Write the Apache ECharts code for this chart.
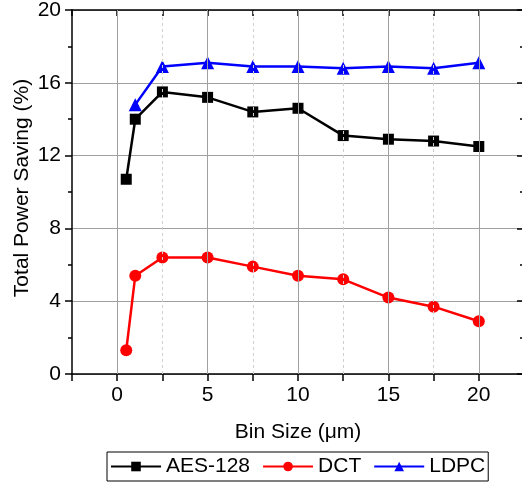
<!DOCTYPE html>
<html>
<head>
<meta charset="utf-8">
<script src="https://cdn.jsdelivr.net/npm/echarts@6/dist/echarts.min.js"></script>
<style>
  html, body { margin: 0; padding: 0; background: #fff; }
  #chart { width: 522px; height: 487px; }
</style>
</head>
<body>
<div id="chart"></div>
<script>
// Bin sizes (µm) and total power saving (%) per benchmark
const binSizes = [0.5, 1, 2.5, 5, 7.5, 10, 12.5, 15, 17.5, 20];
const aes128 = [10.7, 14.0, 15.5, 15.2, 14.4, 14.6, 13.1, 12.9, 12.8, 12.5];
const dct = [1.3, 5.4, 6.4, 6.4, 5.9, 5.4, 5.2, 4.2, 3.7, 2.9];
const ldpcBins = [1, 2.5, 5, 7.5, 10, 12.5, 15, 17.5, 20];
const ldpc = [14.8, 16.9, 17.1, 16.9, 16.9, 16.8, 16.9, 16.8, 17.1];

const seriesNames = ['AES-128', 'DCT', 'LDPC'];
const xMajorTicks = [0, 5, 10, 15, 20];
const xMinorTicks = [2.5, 7.5, 12.5, 17.5];
const yTicks = [0, 4, 8, 12, 16, 20];

const FONT = '"Liberation Sans", Arial, sans-serif';
const FS = 21;

const pairs = (xs, ys) => xs.map((x, i) => [x, ys[i]]);

const chart = echarts.init(document.getElementById('chart'), null, { renderer: 'canvas' });

const baseX = {
  type: 'value', min: -2.5, max: 22.5, interval: 2.5,
  axisLine: { show: true, onZero: false, lineStyle: { color: '#000', width: 1.5 } },
  splitLine: { show: false }
};
const baseY = {
  type: 'value', min: yTicks[0], max: yTicks[yTicks.length - 1], interval: 4,
  axisLine: { show: true, onZero: false, lineStyle: { color: '#000', width: 1.5 } }
};

chart.setOption({
  animation: false,
  backgroundColor: '#fff',
  textStyle: { fontFamily: FONT },
  grid: { left: 72, top: 10, width: 452, height: 364, containLabel: false, outerBoundsMode: 'none' },
  xAxis: [
    Object.assign({}, baseX, {
      position: 'bottom',
      name: 'Bin Size (\u03bcm)',
      nameLocation: 'middle',
      nameGap: 48,
      nameMoveOverlap: false,
      nameTextStyle: { fontFamily: FONT, fontSize: FS, color: '#000' },
      axisTick: { show: true, inside: false, length: 7, lineStyle: { color: '#000', width: 1.5 } },
      axisLabel: {
        margin: 11, fontFamily: FONT, fontSize: FS, color: '#000',
        formatter: v => (xMajorTicks.indexOf(v) >= 0 ? String(v) : '')
      }
    }),
    Object.assign({}, baseX, {
      position: 'top',
      axisTick: { show: true, inside: true, length: 6, lineStyle: { color: '#000', width: 1.5 } },
      axisLabel: { show: false }
    })
  ],
  yAxis: [
    Object.assign({}, baseY, {
      position: 'left',
      name: 'Total Power Saving (%)',
      nameLocation: 'middle',
      nameGap: 39,
      nameMoveOverlap: false,
      nameRotate: 90,
      nameTextStyle: { fontFamily: FONT, fontSize: FS, color: '#000', padding: [0, 0, 0, 8] },
      axisTick: { show: true, inside: false, length: 7, lineStyle: { color: '#000', width: 1.5 } },
      minorTick: { show: true, splitNumber: 2, length: 4, lineStyle: { color: '#000', width: 1.5 } },
      axisLabel: { margin: 11, fontFamily: FONT, fontSize: FS, color: '#000' },
      splitLine: { show: true, lineStyle: { color: '#a0a0a0', width: 1 } }
    }),
    Object.assign({}, baseY, {
      position: 'right',
      axisTick: { show: true, inside: true, length: 7, lineStyle: { color: '#000', width: 1.5 } },
      minorTick: { show: true, splitNumber: 2, length: 4, lineStyle: { color: '#000', width: 1.5 } },
      axisLabel: { show: false },
      splitLine: { show: false }
    })
  ],
  legend: {
    data: seriesNames,
    left: 107, top: 452,
    orient: 'horizontal',
    itemWidth: 50, itemHeight: 12, itemGap: 12,
    padding: [4, 3, 4, 3],
    borderColor: '#000', borderWidth: 1, borderRadius: 0,
    textStyle: { fontFamily: FONT, fontSize: FS, color: '#000', padding: [0, 0, 0, 0] },
    selectedMode: false
  },
  series: [
    {
      // vertical grid lines along the bin-size axis
      name: 'grid', type: 'line', data: [], z: 1, silent: true,
      markLine: {
        silent: true, symbol: 'none', animation: false,
        label: { show: false },
        emphasis: { disabled: true },
        data: xMajorTicks.map(v => ({ xAxis: v, lineStyle: { color: '#a0a0a0', width: 1, type: 'solid' } }))
          .concat(xMinorTicks.map(v => ({ xAxis: v, lineStyle: { color: '#cfcfcf', width: 1, type: [3, 3] } })))
      }
    },
    {
      name: seriesNames[0], type: 'line', z: 3,
      data: pairs(binSizes, aes128),
      symbol: 'rect', symbolSize: 11,
      itemStyle: { color: '#000' },
      lineStyle: { color: '#000', width: 2.5 }
    },
    {
      name: seriesNames[1], type: 'line', z: 3,
      data: pairs(binSizes, dct),
      symbol: 'circle', symbolSize: 12,
      itemStyle: { color: '#ff0000' },
      lineStyle: { color: '#ff0000', width: 2.5 }
    },
    {
      name: seriesNames[2], type: 'line', z: 3,
      data: pairs(ldpcBins, ldpc),
      symbol: 'triangle', symbolSize: 13,
      itemStyle: { color: '#0000ff' },
      lineStyle: { color: '#0000ff', width: 2.5 }
    }
  ]
});
</script>
</body>
</html>
